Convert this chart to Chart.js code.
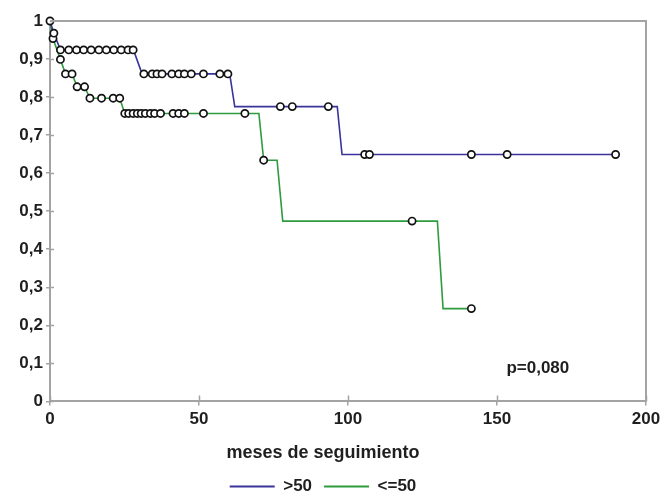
<!DOCTYPE html>
<html>
<head>
<meta charset="utf-8">
<script src="https://cdn.jsdelivr.net/npm/chart.js@4"></script>
<style>
  html, body { margin: 0; padding: 0; background: #fff; }
  #wrap { width: 665px; height: 495px; }
</style>
</head>
<body>
<div id="wrap"><canvas id="c" width="665" height="495"></canvas></div>
<script>
// ---- data ----
const seriesNames = ['>50', '<=50'];

// Kaplan-Meier curve vertices (months, survival)
const blueTimes = [0, 1.3, 3.5, 28.0, 30.9, 60.3, 62.0, 96.4, 98.0, 189.8];
const blueSurv  = [1, 0.968, 0.924, 0.924, 0.861, 0.861, 0.775, 0.775, 0.649, 0.649];

const greenTimes = [0, 1.0, 3.5, 5.2, 7.4, 9.1, 11.6, 13.4, 23.4, 25.1, 70.1, 71.7, 76.2, 78.1, 130.0, 131.9, 141.4];
const greenSurv  = [1, 0.954, 0.899, 0.861, 0.861, 0.827, 0.827, 0.797, 0.797, 0.757, 0.757, 0.634, 0.634, 0.474, 0.474, 0.244, 0.244];

// censored observations (circles)
const blueCensT = [0, 1.3, 3.5, 6.3, 8.9, 11.3, 13.8, 16.4, 18.9, 21.4, 23.9, 26.2, 27.9,
  31.5, 34.3, 35.9, 37.6, 40.9, 43.2, 45.1, 47.4, 51.5, 57.0, 59.7,
  77.3, 81.3, 93.4, 105.6, 107.2, 141.4, 153.4, 189.8];
const blueCensS = [1, 0.968, 0.924, 0.924, 0.924, 0.924, 0.924, 0.924, 0.924, 0.924, 0.924, 0.924, 0.924,
  0.861, 0.861, 0.861, 0.861, 0.861, 0.861, 0.861, 0.861, 0.861, 0.861, 0.861,
  0.775, 0.775, 0.775, 0.649, 0.649, 0.649, 0.649, 0.649];

const greenCensT = [1.0, 3.5, 5.2, 7.4, 9.1, 11.6, 13.4, 17.3, 21.2, 23.4,
  25.1, 26.4, 27.9, 29.3, 30.6, 32.0, 33.7, 35.1, 37.1, 41.3, 43.2, 45.1, 51.5, 65.4,
  71.7, 121.5, 141.4];
const greenCensS = [0.954, 0.899, 0.861, 0.861, 0.827, 0.827, 0.797, 0.797, 0.797, 0.797,
  0.757, 0.757, 0.757, 0.757, 0.757, 0.757, 0.757, 0.757, 0.757, 0.757, 0.757, 0.757, 0.757, 0.757,
  0.634, 0.474, 0.244];

const xTicks = [0, 50, 100, 150, 200];
const yTickLabels = ['0', '0,1', '0,2', '0,3', '0,4', '0,5', '0,6', '0,7', '0,8', '0,9', '1'];
const axisTitle = 'meses de seguimiento';
const pText = 'p=0,080';
const pPos = { x: 163.7, y: 0.087 };

// ---- styling ----
const BLUE = '#3a3399';
const GREEN = '#2e9b3e';
const AXIS = '#a3a3a3';
const TXT = '#1f1f1f';
const FONT = "'Liberation Sans', Arial, Helvetica, sans-serif";

const pts = (xs, ys) => xs.map((x, i) => ({ x: x, y: ys[i] }));

const circleStyle = {
  type: 'scatter',
  showLine: false,
  pointRadius: 3.6,
  pointHoverRadius: 3.6,
  pointBackgroundColor: '#ffffff',
  pointBorderColor: '#111111',
  pointBorderWidth: 1.7,
  clip: false,
  order: 1
};

const framePlugin = {
  id: 'frame',
  afterDraw(chart) {
    const { ctx, chartArea: a, scales } = chart;
    ctx.save();
    ctx.strokeStyle = AXIS;
    ctx.lineWidth = 2;
    ctx.beginPath();
    ctx.moveTo(a.left, a.top);
    ctx.lineTo(a.right, a.top);
    ctx.lineTo(a.right, a.bottom);
    ctx.stroke();
    // inner tick marks
    ctx.lineWidth = 1.5;
    ctx.beginPath();
    scales.y.ticks.forEach(t => {
      const py = Math.round(scales.y.getPixelForValue(t.value)) + 0.5;
      ctx.moveTo(a.left, py);
      ctx.lineTo(a.left + 4, py);
    });
    scales.x.ticks.forEach(t => {
      const px = Math.round(scales.x.getPixelForValue(t.value)) + 0.5;
      ctx.moveTo(px, a.bottom);
      ctx.lineTo(px, a.bottom - 6);
    });
    ctx.stroke();
    // p-value
    ctx.fillStyle = TXT;
    ctx.font = "bold 17px " + FONT;
    ctx.textAlign = 'center';
    ctx.textBaseline = 'middle';
    ctx.fillText(pText, scales.x.getPixelForValue(pPos.x), scales.y.getPixelForValue(pPos.y));
    ctx.restore();
  }
};

new Chart(document.getElementById('c'), {
  type: 'line',
  data: {
    datasets: [
      { label: seriesNames[0], data: pts(blueTimes, blueSurv), borderColor: BLUE, backgroundColor: BLUE,
        borderWidth: 1.6, pointRadius: 0, fill: false, tension: 0, order: 2 },
      { label: seriesNames[1], data: pts(greenTimes, greenSurv), borderColor: GREEN, backgroundColor: GREEN,
        borderWidth: 1.6, pointRadius: 0, fill: false, tension: 0, order: 2 },
      Object.assign({ label: 'cens1', data: pts(blueCensT, blueCensS) }, circleStyle),
      Object.assign({ label: 'cens2', data: pts(greenCensT, greenCensS) }, circleStyle)
    ]
  },
  options: {
    responsive: false,
    animation: false,
    events: [],
    layout: { padding: { top: 21, right: 19, left: 0, bottom: 0 } },
    scales: {
      x: {
        type: 'linear',
        min: 0, max: 200,
        afterBuildTicks: s => { s.ticks = xTicks.map(v => ({ value: v })); },
        afterFit: s => { s.height = 36; },
        grid: { drawOnChartArea: false, color: AXIS, lineWidth: 1.5, tickLength: 4 },
        border: { display: true, color: AXIS, width: 2 },
        ticks: { color: TXT, font: { family: FONT, size: 17, weight: 'bold' }, padding: 4, maxRotation: 0 }
      },
      y: {
        type: 'linear',
        min: 0, max: 1,
        afterBuildTicks: s => { s.ticks = yTickLabels.map((l, i) => ({ value: i / 10 })); },
        afterFit: s => { s.width = 50; },
        grid: { drawOnChartArea: false, color: AXIS, lineWidth: 1.5, tickLength: 4 },
        border: { display: true, color: AXIS, width: 2 },
        ticks: {
          color: TXT, font: { family: FONT, size: 17, weight: 'bold' }, padding: 3,
          callback: (v, i) => yTickLabels[i]
        }
      }
    },
    plugins: {
      tooltip: { enabled: false },
      title: {
        display: true, position: 'bottom', text: axisTitle, weight: 500,
        color: TXT, font: { family: FONT, size: 18, weight: 'bold' },
        padding: { top: 5, bottom: 2 }
      },
      legend: {
        display: true, position: 'bottom', weight: 1000, maxHeight: 29,
        labels: {
          color: TXT, font: { family: FONT, size: 17, weight: 'bold' },
          boxWidth: 45, boxHeight: 2, padding: 12,
          generateLabels: chart => chart.data.datasets.slice(0, 2).map((ds, i) => ({
            text: ds.label, fillStyle: ds.borderColor, strokeStyle: ds.borderColor,
            lineWidth: 0, hidden: false, datasetIndex: i, fontColor: TXT
          }))
        }
      }
    }
  },
  plugins: [framePlugin]
});
</script>
</body>
</html>
